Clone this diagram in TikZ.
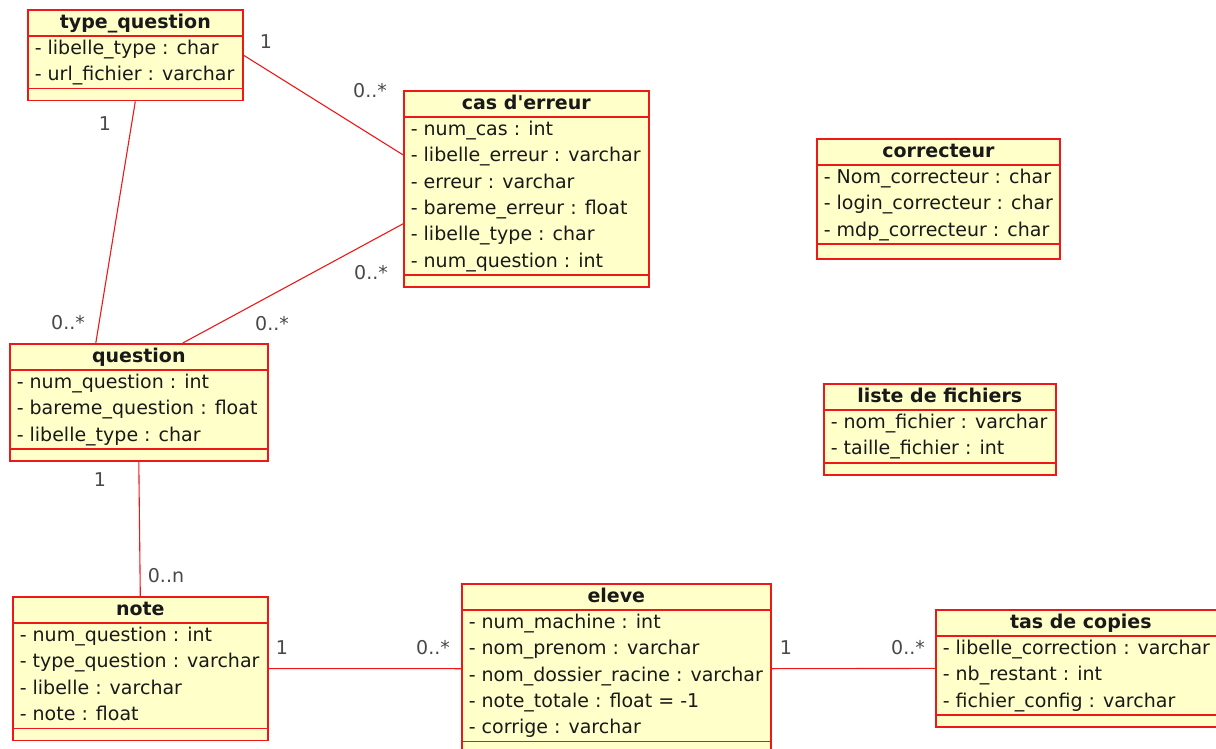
\documentclass[tikz,border=0pt]{standalone}
\usepackage{fontspec}
\setmainfont{DejaVu Sans}
\usepackage{tikz}
\usetikzlibrary{shapes.multipart}
\definecolor{umlred}{RGB}{238,24,24}
\definecolor{umlyellow}{RGB}{255,255,202}
\definecolor{multgray}{RGB}{72,72,72}
\definecolor{umltext}{RGB}{25,25,25}

\begin{document}
\begin{tikzpicture}[x=1pt, y=-1pt,
  font=\fontsize{19}{26.3}\selectfont,
  classbox/.style={rectangle split, rectangle split parts=3, color=umlred, draw=umlred, text=umltext,
    fill=umlyellow, line width=1.6pt, anchor=north west, align=left, inner xsep=7pt, inner ysep=-0.8pt,
    rectangle split part align={center,left,left}, rectangle split empty part height=12pt},
  assoc/.style={draw=umlred, line width=1.1pt},
  mult/.style={text=multgray, inner sep=0pt}]
 \useasboundingbox (0,0) rectangle (1216,749);
 % classes
 \node [classbox, minimum width=215pt] (typequestion) at (27,9)
   {\strut\textbf{type\_question}
    \nodepart{two}\strut- libelle\_type : char\\\strut- url\_fichier : varchar
    \nodepart{three}};
 \node [classbox, minimum width=245pt] (caserreur) at (403,90)
   {\strut\textbf{cas d\textquotesingle erreur}
    \nodepart{two}\strut- num\_cas : int\\\strut- libelle\_erreur : varchar\\\strut- erreur : varchar\\
    \strut- bareme\_erreur : float\\\strut- libelle\_type : char\\\strut- num\_question : int
    \nodepart{three}};
 \node [classbox, minimum width=242pt, rectangle split empty part height=15pt] (correcteur) at (816,138)
   {\strut\textbf{correcteur}
    \nodepart{two}\strut- Nom\_correcteur : char\\\strut- login\_correcteur : char\\\strut- mdp\_correcteur : char
    \nodepart{three}};
 \node [classbox, minimum width=258pt] (question) at (9,343)
   {\strut\textbf{question}
    \nodepart{two}\strut- num\_question : int\\\strut- bareme\_question : float\\\strut- libelle\_type : char
    \nodepart{three}};
 \node [classbox, minimum width=232pt] (listefichiers) at (823,383)
   {\strut\textbf{liste de fichiers}
    \nodepart{two}\strut- nom\_fichier : varchar\\\strut- taille\_fichier : int
    \nodepart{three}};
 \node [classbox, minimum width=255pt] (note) at (12,596)
   {\strut\textbf{note}
    \nodepart{two}\strut- num\_question : int\\\strut- type\_question : varchar\\\strut- libelle : varchar\\
    \strut- note : float
    \nodepart{three}};
 \node [classbox, minimum width=309pt] (eleve) at (461,583)
   {\strut\textbf{eleve}
    \nodepart{two}\strut- num\_machine : int\\\strut- nom\_prenom : varchar\\\strut- nom\_dossier\_racine : varchar\\
    \strut- note\_totale : float = -1\\\strut- corrige : varchar
    \nodepart{three}};
 \node [classbox, minimum width=290pt] (tascopies) at (935,609)
   {\strut\textbf{tas de copies}
    \nodepart{two}\strut- libelle\_correction : varchar\\\strut- nb\_restant : int\\\strut- fichier\_config : varchar
    \nodepart{three}};
 % associations
  \draw[assoc] (typequestion.east) -- ([yshift=34pt]caserreur.west);
  \draw[assoc] (typequestion.south) -- ([xshift=-43pt]question.north);
  \draw[assoc] ([yshift=-35pt]caserreur.west) -- ([xshift=44pt]question.north);
  \draw[assoc] (question.south) -- (note.north);
  \draw[assoc] (note.east) -- (eleve.west);
  \draw[assoc] (eleve.east) -- (tascopies.west);
 % multiplicities
 \node [mult] (m-tq-cas)  at (266,42)  {1};
 \node [mult] (m-cas-tq)  at (370,91)  {0..*};
 \node [mult] (m-tq-q)    at (105,124) {1};
 \node [mult] (m-q-tq)    at (68,323)  {0..*};
 \node [mult] (m-cas-q)   at (371,273) {0..*};
 \node [mult] (m-q-cas)   at (272,324) {0..*};
 \node [mult] (m-q-note)  at (100,480) {1};
 \node [mult] (m-note-q)  at (166,576) {0..n};
 \node [mult] (m-note-el) at (282,648) {1};
 \node [mult] (m-el-note) at (433,648) {0..*};
 \node [mult] (m-el-tas)  at (786,648) {1};
 \node [mult] (m-tas-el)  at (908,648) {0..*};
\end{tikzpicture}
\end{document}
